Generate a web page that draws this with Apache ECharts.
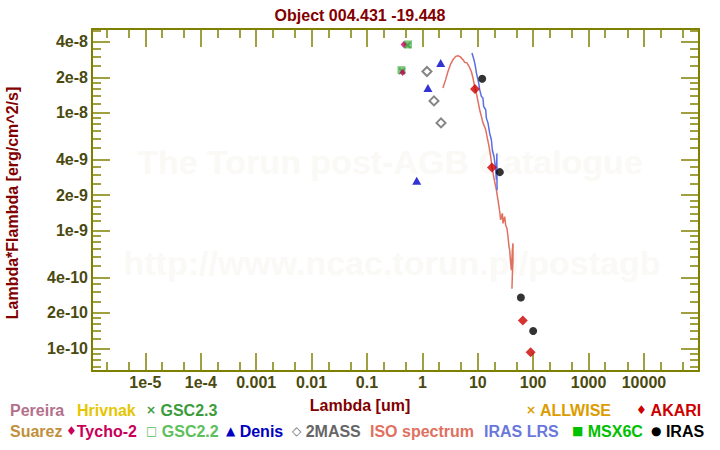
<!DOCTYPE html>
<html>
<head>
<meta charset="utf-8">
<title>Object 004.431 -19.448</title>
<script src="https://cdn.jsdelivr.net/npm/echarts@6/dist/echarts.min.js"></script>
<style>
html, body { margin: 0; padding: 0; background: #fff; }
#chart { width: 720px; height: 450px; }
</style>
</head>
<body>
<div id="chart"></div>
<script>
// lambda in um, lambda*F_lambda in erg/cm^2/s
var isoLambda = [2.35, 2.63, 2.90, 3.20, 3.57, 3.99, 4.39, 4.85, 5.41, 5.80, 6.38, 6.94, 7.66, 8.19, 8.79, 9.43, 10.09, 10.82, 11.61, 12.41, 13.89, 14.66, 15.92, 17.09, 18.04, 19.37, 20.43, 21.66, 23.15, 24.85, 25.9, 27.8, 28.5, 30.6, 31.9, 33.7, 35.1, 36.6, 37.7, 38.8, 40.4, 42.1, 43.2, 43.2, 42.1, 41.4];
var isoFlux = [1.62e-8, 1.91e-8, 2.24e-8, 2.56e-8, 2.82e-8, 3.01e-8, 3.05e-8, 2.98e-8, 2.82e-8, 2.68e-8, 2.65e-8, 2.48e-8, 2.24e-8, 1.97e-8, 1.67e-8, 1.47e-8, 1.25e-8, 1.06e-8, 9.3e-9, 8.2e-9, 7.2e-9, 6.3e-9, 5.2e-9, 4.25e-9, 3.49e-9, 2.87e-9, 2.52e-9, 2.21e-9, 1.82e-9, 1.45e-9, 1.23e-9, 1.40e-9, 1.15e-9, 1.31e-9, 1.11e-9, 1.04e-9, 8.9e-10, 7.3e-10, 6.8e-10, 5.6e-10, 4.6e-10, 6.8e-10, 7.8e-10, 5.6e-10, 4.2e-10, 3.2e-10];

var lrsLambda = [7.86, 8.54, 9.05, 9.44, 10.38, 10.82, 11.61, 12.41, 12.77, 13.89, 14.3, 15.28, 16.39, 17.6, 18.35, 19.6, 20.8, 21.7, 22.1, 22.3];
var lrsFlux = [3.22e-8, 2.82e-8, 2.48e-8, 2.18e-8, 1.79e-8, 1.57e-8, 1.38e-8, 1.33e-8, 1.13e-8, 1.06e-8, 9.0e-9, 8.2e-9, 6.7e-9, 5.9e-9, 4.8e-9, 4.25e-9, 3.49e-9, 2.69e-9, 4.5e-9, 2.2e-9];

var tychoLambda = [0.46, 0.44];
var tychoFlux = [3.8e-8, 2.2e-8];
var gsc22Lambda = [0.55, 0.42];
var gsc22Flux = [3.8e-8, 2.3e-8];
var gsc23Lambda = [0.54, 0.43];
var gsc23Flux = [3.75e-8, 2.25e-8];
var denisLambda = [0.79, 1.26, 2.14];
var denisFlux = [2.65e-9, 1.62e-8, 2.65e-8];
var twomassLambda = [1.21, 1.62, 2.17];
var twomassFlux = [2.24e-8, 1.26e-8, 8.2e-9];
var akariLambda = [8.9, 18, 65, 90];
var akariFlux = [1.59e-8, 3.42e-9, 1.72e-10, 9.25e-11];
var irasLambda = [12, 25, 60, 100];
var irasFlux = [1.94e-8, 3.13e-9, 2.7e-10, 1.4e-10];

var xRange = [1.087e-6, 9.85e4];
var yRange = [6.41e-11, 5.14e-8];
var xTickValues = [1e-5, 1e-4, 1e-3, 1e-2, 1e-1, 1, 10, 100, 1000, 10000];
var xTickLabels = ["1e-5", "1e-4", "0.001", "0.01", "0.1", "1", "10", "100", "1000", "10000"];
var xMinorTicks = [2e-6, 5e-6, 2e-5, 5e-5, 2e-4, 5e-4, 2e-3, 5e-3, 2e-2, 5e-2, 0.2, 0.5, 2, 5, 20, 50, 200, 500, 2000, 5000, 2e4, 5e4];
var yTickValues = [1e-10, 2e-10, 4e-10, 1e-9, 2e-9, 4e-9, 1e-8, 2e-8, 4e-8];
var yTickLabels = ["1e-10", "2e-10", "4e-10", "1e-9", "2e-9", "4e-9", "1e-8", "2e-8", "4e-8"];
var yMinorTicks = [7e-11, 8e-11, 9e-11,
  1.2e-10, 1.4e-10, 1.6e-10, 1.8e-10, 2.5e-10, 3e-10, 3.5e-10, 5e-10, 6e-10, 7e-10, 8e-10, 9e-10,
  1.2e-9, 1.4e-9, 1.6e-9, 1.8e-9, 2.5e-9, 3e-9, 3.5e-9, 5e-9, 6e-9, 7e-9, 8e-9, 9e-9,
  1.2e-8, 1.4e-8, 1.6e-8, 1.8e-8, 2.5e-8, 3e-8, 3.5e-8, 5e-8];

var legendItems = [
  { text: "Pereira", color: "#b4708c", x: 10, row: 0 },
  { text: "Hrivnak", color: "#e6c600", x: 77, row: 0 },
  { glyph: "×", text: " GSC2.3", color: "#3c9c3c", x: 146, row: 0 },
  { glyph: "×", text: " ALLWISE", color: "#dc9c00", x: 526, row: 0 },
  { glyph: "♦", text: " AKARI", color: "#cc0000", x: 636, row: 0 },
  { text: "Suarez", color: "#c0903c", x: 10, row: 1 },
  { glyph: "♦", text: "Tycho-2", color: "#c8005a", x: 66, row: 1 },
  { glyph: "□", text: " GSC2.2", color: "#5cc05c", x: 146, row: 1 },
  { glyph: "▲", text: " Denis", color: "#0000c0", x: 226, row: 1 },
  { glyph: "◇", text: " 2MASS", color: "#666666", x: 292, row: 1 },
  { text: "ISO spectrum", color: "#e07060", x: 370, row: 1 },
  { text: "IRAS LRS", color: "#6a78dc", x: 484, row: 1 },
  { glyph: "■", text: " MSX6C", color: "#00c000", x: 572, row: 1 },
  { glyph: "●", text: " IRAS", color: "#000000", x: 651, row: 1 }
];

var FONT = '"Liberation Sans", Arial, sans-serif';
var AXIS = "#808000";
var LABEL = "#4a4a10";

function lg(v) { return Math.log10(v); }
function pts(xs, ys) {
  return xs.map(function (x, i) { return [lg(x), lg(ys[i])]; });
}
function nearestLabel(v, values, labels) {
  var best = 0;
  values.forEach(function (t, i) {
    if (Math.abs(lg(t) - v) < Math.abs(lg(values[best]) - v)) best = i;
  });
  return labels[best];
}

function makeAxis(dir, pos, ticks, len, labels) {
  var range = dir === "x" ? xRange : yRange;
  var ax = {
    type: "value",
    position: pos,
    min: lg(range[0]),
    max: lg(range[1]),
    splitLine: { show: false },
    axisLine: { show: !!labels || pos === "top" || pos === "right", onZero: false, lineStyle: { color: AXIS, width: 2 } },
    axisTick: { show: true, inside: true, length: len, customValues: ticks.map(lg), lineStyle: { color: AXIS, width: 1.5 } },
    axisLabel: { show: false }
  };
  if (labels) {
    var vals = dir === "x" ? xTickValues : yTickValues;
    ax.axisLabel = {
      show: true,
      customValues: vals.map(lg),
      margin: dir === "x" ? 3 : 4,
      color: LABEL,
      fontFamily: FONT,
      fontWeight: "bold",
      fontSize: 16,
      formatter: function (v) { return nearestLabel(v, vals, labels); }
    };
  }
  return ax;
}

var xAxes = [
  makeAxis("x", "bottom", xTickValues, 18, xTickLabels),
  makeAxis("x", "bottom", xMinorTicks, 9),
  makeAxis("x", "top", xTickValues, 18),
  makeAxis("x", "top", xMinorTicks, 9)
];
xAxes[1].axisLine.show = false;
xAxes[3].axisLine.show = false;

var yAxes = [
  makeAxis("y", "left", yTickValues, 18, yTickLabels),
  makeAxis("y", "left", yMinorTicks, 9),
  makeAxis("y", "right", yTickValues, 18),
  makeAxis("y", "right", yMinorTicks, 9)
];
yAxes[1].axisLine.show = false;
yAxes[3].axisLine.show = false;

var crossPath = "path://M0,1.5L1.5,0L5,3.5L8.5,0L10,1.5L6.5,5L10,8.5L8.5,10L5,6.5L1.5,10L0,8.5L3.5,5Z";

var graphics = [
  { type: "text", x: 390, y: 162, z: 0, style: { text: "The Torun post-AGB Catalogue", fill: "#faf9f5", font: "bold 34px " + FONT, textAlign: "center", textVerticalAlign: "middle" } },
  { type: "text", x: 392, y: 263, z: 0, style: { text: "http://www.ncac.torun.pl/postagb", fill: "#faf9f5", font: "bold 34px " + FONT, textAlign: "center", textVerticalAlign: "middle" } },
  { type: "text", x: 360, y: 405, style: { text: "Lambda [um]", fill: "#820000", font: "bold 16px " + FONT, textAlign: "center", textVerticalAlign: "middle" } },
  // y axis title, rotated
  { type: "text", x: 12, y: 203, rotation: Math.PI / 2, style: { text: "Lambda*Flambda [erg/cm^2/s]", fill: "#820000", font: "bold 16px " + FONT, textAlign: "center", textVerticalAlign: "middle" } }
];
legendItems.forEach(function (it) {
  graphics.push({
    type: "text",
    x: it.x,
    y: it.row === 0 ? 410 : 431,
    style: {
      text: (it.glyph ? "{g|" + it.glyph + "}" : "") + it.text,
      fill: it.color,
      font: "bold 16px " + FONT,
      textVerticalAlign: "middle",
      rich: { g: { fill: it.color, fontSize: 12, fontWeight: "bold", fontFamily: "DejaVu Sans" } }
    }
  });
});

var chart = echarts.init(document.getElementById("chart"), null, { renderer: "svg" });
chart.setOption({
  animation: false,
  backgroundColor: "#fff",
  title: {
    text: "Object 004.431 -19.448",
    left: "center",
    top: 2,
    textStyle: { color: "#820000", fontFamily: FONT, fontWeight: "bold", fontSize: 16 }
  },
  grid: { left: 92, right: 21, top: 29, bottom: 79, containLabel: false, outerBoundsMode: "none" },
  xAxis: xAxes,
  yAxis: yAxes,
  graphic: graphics,
  series: [
    { name: "ISO spectrum", type: "line", data: pts(isoLambda, isoFlux), symbol: "none",
      lineStyle: { color: "#e07060", width: 1.5 }, z: 3 },
    { name: "IRAS LRS", type: "line", data: pts(lrsLambda, lrsFlux), symbol: "none",
      lineStyle: { color: "#5a6ee6", width: 1.5 }, z: 3 },
    { name: "GSC2.2", type: "scatter", data: pts(gsc22Lambda, gsc22Flux), symbol: "rect", symbolSize: 8,
      itemStyle: { color: "#5cb85c" }, z: 4 },
    { name: "GSC2.3", type: "scatter", data: pts(gsc23Lambda, gsc23Flux), symbol: crossPath, symbolSize: 7,
      itemStyle: { color: "#3c9c3c" }, z: 5 },
    { name: "Tycho-2", type: "scatter", data: pts(tychoLambda, tychoFlux), symbol: "diamond", symbolSize: [6, 7],
      itemStyle: { color: "#c8005a" }, z: 5 },
    { name: "Denis", type: "scatter", data: pts(denisLambda, denisFlux), symbol: "triangle", symbolSize: [9, 8],
      itemStyle: { color: "#0000c8" }, z: 5 },
    { name: "2MASS", type: "scatter", data: pts(twomassLambda, twomassFlux), symbol: "emptyDiamond", symbolSize: 9,
      itemStyle: { color: "#666666", borderWidth: 1.5 }, z: 5 },
    { name: "AKARI", type: "scatter", data: pts(akariLambda, akariFlux), symbol: "diamond", symbolSize: 10,
      itemStyle: { color: "#cc0000" }, z: 6 },
    { name: "IRAS", type: "scatter", data: pts(irasLambda, irasFlux), symbol: "circle", symbolSize: 8,
      itemStyle: { color: "#000000" }, z: 6 }
  ]
});
</script>
</body>
</html>
